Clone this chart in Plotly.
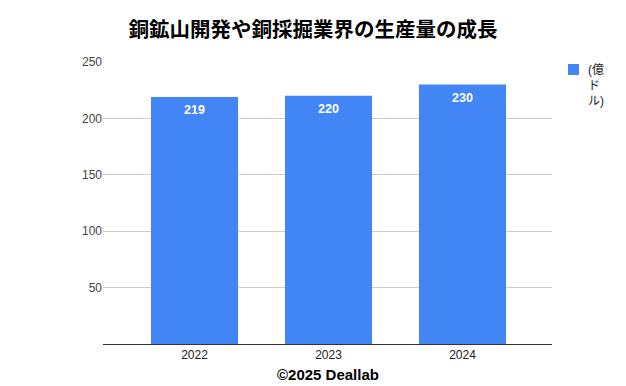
import plotly.graph_objects as go

years = ["2022", "2023", "2024"]
values = [219, 220, 230]
series_name = "(億<br>ド<br>ル)"
y_ticks = [50, 100, 150, 200, 250]

fig = go.Figure()
fig.add_trace(go.Bar(
    x=[0, 1, 2], y=values, name=series_name,
    marker=dict(color="#4285F4", line=dict(width=0)),
    width=0.65,
    showlegend=False,
))

# manual legend (kept outside plot area without shrinking it)
fig.add_shape(type="rect", xref="paper", yref="paper",
              x0=(568 - 103) / 449, x1=(579 - 103) / 449,
              y0=(344 - 75) / 282, y1=(344 - 64) / 282,
              fillcolor="#4285F4", line=dict(width=0))

annotations = [
    dict(text="<b>©2025 Deallab</b>", x=0.5, xref="paper", y=(344 - 374) / 282, yref="paper",
         xanchor="center", yanchor="middle", showarrow=False,
         font=dict(size=15, color="#000")),
    dict(text=series_name, x=(586 - 103) / 449, xref="paper", y=(344 - 61) / 282, yref="paper",
         xanchor="left", yanchor="top", align="left", showarrow=False,
         font=dict(size=12, color="#222", family="Liberation Sans, Noto Sans CJK JP")),
]
for i, v in enumerate(values):
    annotations.append(dict(text=f"<b>{v}</b>", x=i, y=v, xref="x", yref="y",
                            yshift=-13, yanchor="middle", xanchor="center", showarrow=False,
                            font=dict(size=12.5, color="white", family="Liberation Sans, Arial")))

fig.update_layout(
    width=626, height=386,
    margin=dict(l=103, r=74, t=62, b=42),
    paper_bgcolor="white", plot_bgcolor="white",
    title=dict(text="<b>銅鉱山開発や銅採掘業界の生産量の成長</b>",
               x=0.5, xanchor="center", y=0.922, yanchor="middle",
               font=dict(size=20.5, color="#000", family="Noto Sans CJK JP")),
    font=dict(family="Liberation Sans, Arial", size=12, color="#222"),
    xaxis=dict(range=[-0.683, 2.668], tickmode="array", tickvals=[0, 1, 2], ticktext=years,
               showgrid=False, showline=True, linecolor="#333", linewidth=1,
               ticks="", zeroline=False, tickfont=dict(size=12, color="#222")),
    yaxis=dict(range=[0, 250], tickvals=y_ticks, showgrid=True, gridcolor="#cccccc",
               zeroline=False, showline=False, ticks="", tickfont=dict(size=12, color="#444")),
    showlegend=False,
    annotations=annotations,
)
fig.write_html("out.html")
